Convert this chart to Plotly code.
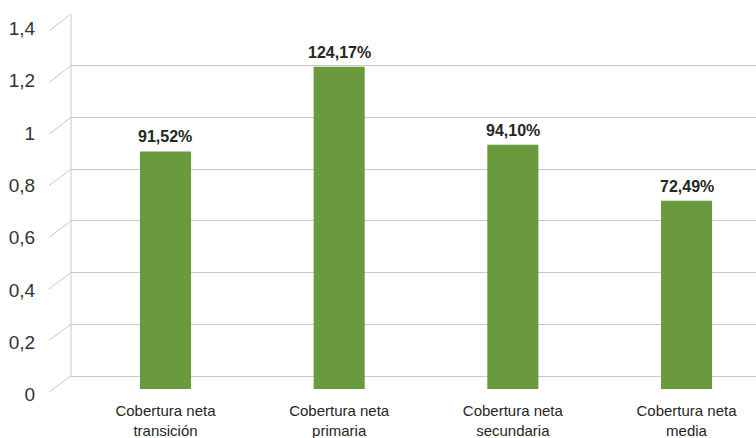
import plotly.graph_objects as go

# ---- data ----
categories = ["Cobertura neta transición", "Cobertura neta primaria",
              "Cobertura neta secundaria", "Cobertura neta media"]
values = [0.9152, 1.2417, 0.9410, 0.7249]
y_ticks = [0, 0.2, 0.4, 0.6, 0.8, 1.0, 1.2, 1.4]

# ---- styling / geometry ----
W, H = 756, 438
ML, MR, MT, MB = 71, 0, 14, 38
PLOT_TOP, PLOT_BOT = MT, H - MB
PH = PLOT_BOT - PLOT_TOP
PW = W - ML - MR

FONT = "Liberation Sans, Arial, sans-serif"
GREEN = "#699a3e"
GRID = "#c8c8c8"
TXT = "#262626"

# pixel mappings (value -> pixel y) for the pseudo-3D look
BAR_ZERO, BAR_SCALE = 389, 259.6      # bars (front of floor)
BACK_ZERO, BACK_SCALE = 376, 258.6    # back wall gridlines
FRONT_ZERO, FRONT_SCALE = 392, 257.9  # front edge of the diagonals
LAB_ZERO, LAB_SCALE = 394.5, 261.6    # tick labels


def rng(zero, scale):
    return [-(PLOT_BOT - zero) / scale, (zero - PLOT_TOP) / scale]


def py2paper(py):
    return (PLOT_BOT - py) / PH


def px2paper(px):
    return (px - ML) / PW


x_labels = [c.replace("neta ", "neta<br>") for c in categories]

fig = go.Figure()
fig.add_trace(go.Bar(
    x=x_labels, y=values, marker=dict(color=GREEN, line=dict(width=0)),
    width=0.294, yaxis="y", hoverinfo="skip",
))

# value labels above bars
annotations = []
for lab, v in zip(x_labels, values):
    annotations.append(dict(
        x=lab, y=v, xref="x", yref="y", yanchor="bottom", yshift=4,
        text="<b>" + f"{v * 100:.2f}%".replace(".", ",") + "</b>",
        showarrow=False, font=dict(family=FONT, size=16, color=TXT)))

shapes = []
# back-wall vertical edge
shapes.append(dict(type="line", xref="paper", yref="y2", x0=0, x1=0,
                   y0=y_ticks[0], y1=y_ticks[-1], line=dict(color=GRID, width=1)))
# diagonal side-wall lines
for v in y_ticks:
    shapes.append(dict(type="line", xref="paper", yref="paper",
                       x0=px2paper(49), x1=0,
                       y0=py2paper(FRONT_ZERO - v * FRONT_SCALE),
                       y1=py2paper(BACK_ZERO - v * BACK_SCALE),
                       line=dict(color=GRID, width=1), layer="below"))

fig.update_layout(
    width=W, height=H, margin=dict(l=ML, r=MR, t=MT, b=MB, autoexpand=False),
    paper_bgcolor="white", plot_bgcolor="white", separators=",.",
    showlegend=False, font=dict(family=FONT, color=TXT),
    xaxis=dict(type="category", range=[-0.544, 3.40], showgrid=False,
               zeroline=False, showline=False, ticks="",
               tickfont=dict(family=FONT, size=15, color=TXT), fixedrange=True),
    yaxis=dict(range=rng(BAR_ZERO, BAR_SCALE), visible=False, showgrid=False,
               zeroline=False),
    yaxis2=dict(overlaying="y", range=rng(BACK_ZERO, BACK_SCALE), tickvals=y_ticks,
                showgrid=True, gridcolor=GRID, gridwidth=1, zeroline=False,
                showticklabels=False, ticks=""),
    yaxis3=dict(overlaying="y", range=rng(LAB_ZERO, LAB_SCALE), tickvals=y_ticks,
                showgrid=False, zeroline=False, showline=False,
                ticks="outside", ticklen=31, tickcolor="rgba(0,0,0,0)",
                tickfont=dict(family=FONT, size=19, color="#333333")),
    shapes=shapes,
    annotations=annotations,
)
# invisible traces so the overlay axes render
fig.add_trace(go.Scatter(x=[x_labels[0]], y=[0], yaxis="y2", mode="markers",
                         marker=dict(opacity=0), hoverinfo="skip"))
fig.add_trace(go.Scatter(x=[x_labels[0]], y=[0], yaxis="y3", mode="markers",
                         marker=dict(opacity=0), hoverinfo="skip"))

fig.write_html("out.html", config={"displayModeBar": False},
               post_script="document.body.style.margin='0';")
